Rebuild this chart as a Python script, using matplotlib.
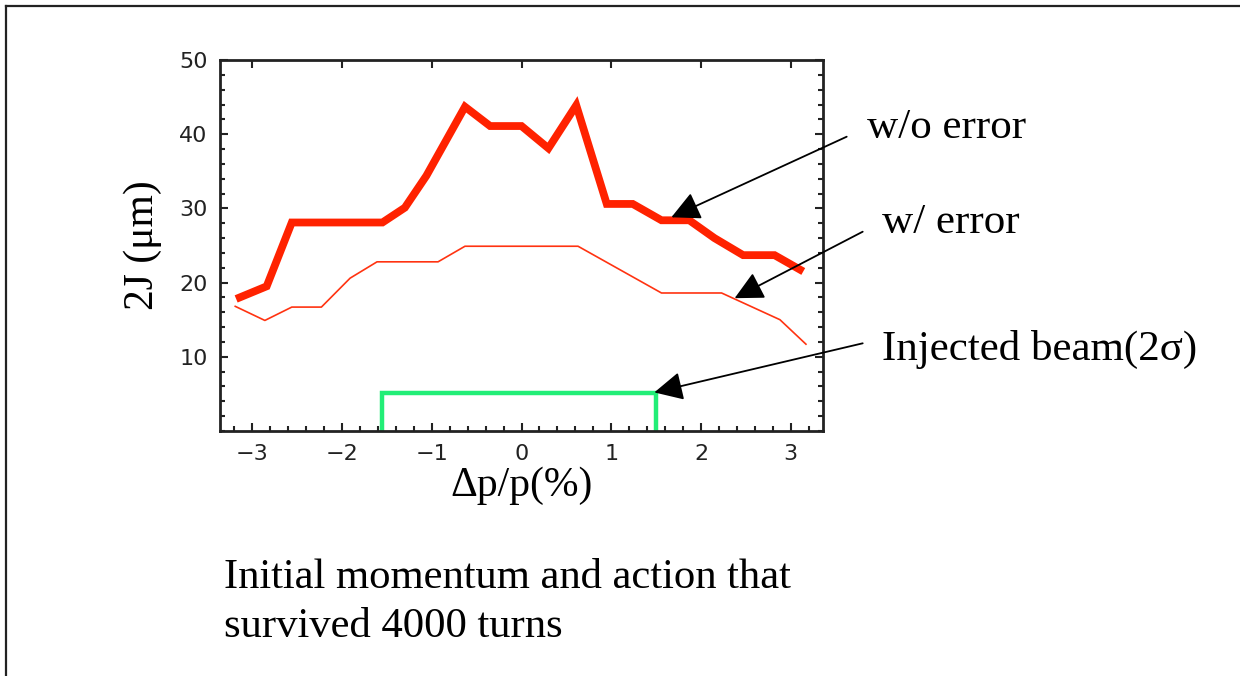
import matplotlib
matplotlib.use("Agg")
import matplotlib.pyplot as plt
from matplotlib.lines import Line2D
from matplotlib.ticker import MultipleLocator

# w/o error (thick line)
dp_noerr = [-3.18, -2.84, -2.56, -1.55, -1.30, -1.06, -0.63, -0.35, 0.0, 0.30, 0.61, 0.95, 1.24, 1.56, 1.87, 2.15, 2.47, 2.82, 3.14]
j_noerr = [17.8, 19.5, 28.1, 28.1, 30.1, 34.4, 43.7, 41.1, 41.1, 38.1, 43.9, 30.6, 30.6, 28.4, 28.4, 26.0, 23.7, 23.7, 21.5]

# w/ error (thin line)
dp_err = [-3.19, -2.86, -2.56, -2.23, -1.91, -1.61, -0.93, -0.63, 0.63, 1.56, 2.23, 2.88, 3.17]
j_err = [16.8, 14.9, 16.7, 16.7, 20.6, 22.8, 22.8, 24.9, 24.9, 18.6, 18.6, 15.0, 11.7]

# injected beam (2 sigma) box
beam_x = [-1.55, -1.55, 1.5, 1.5]
beam_y = [0.0, 5.1, 5.1, 0.0]

serif = ["Liberation Serif", "DejaVu Serif"]

fig = plt.figure(figsize=(12.4, 6.76), dpi=100)
ax = fig.add_axes([220 / 1240, 1 - 431 / 676, 603 / 1240, 371 / 676])

ax.plot(dp_noerr, j_noerr, color="#ff2200", lw=5.6, solid_joinstyle="miter", solid_capstyle="butt")
ax.plot(dp_err, j_err, color="#ff3311", lw=1.2)
ax.plot(beam_x, beam_y, color="#22ee77", lw=3.2, solid_joinstyle="miter")

ax.set_xlim(-3.36, 3.36)
ax.set_ylim(0, 50)
ax.set_xticks([-3, -2, -1, 0, 1, 2, 3])
ax.set_xticklabels(["\u22123", "\u22122", "\u22121", "0", "1", "2", "3"])
ax.set_yticks([10, 20, 30, 40, 50])
ax.xaxis.set_minor_locator(MultipleLocator(0.2))
ax.yaxis.set_minor_locator(MultipleLocator(2))
ax.tick_params(which="both", direction="in", top=True, right=True, width=1.5, color="#222222")
ax.tick_params(which="major", length=6, labelsize=16, labelcolor="#222222", pad=9)
ax.tick_params(which="minor", length=3.5)
ax.tick_params(axis="x", which="minor", top=False)
for sp in ax.spines.values():
    sp.set_linewidth(2)
    sp.set_color("#222222")

ax.set_xlabel("\u0394p/p(%)", family=serif, fontsize=30, labelpad=2)
ax.set_ylabel("2J (\u03bcm)", family=serif, fontsize=30, labelpad=12)

# annotation arrows
arrow = dict(arrowstyle="-|>,head_length=0.8,head_width=0.4", mutation_scale=22,
             color="black", lw=1.3, shrinkA=0, shrinkB=0)
ax.annotate("", xy=(1.67, 28.8), xytext=(846.7 / 1240, 1 - 136.7 / 676),
            textcoords="figure fraction", arrowprops=arrow, annotation_clip=False)
ax.annotate("", xy=(2.375, 17.9), xytext=(862.7 / 1240, 1 - 231.7 / 676),
            textcoords="figure fraction", arrowprops=arrow, annotation_clip=False)
ax.annotate("", xy=(1.48, 5.2), xytext=(862.7 / 1240, 1 - 343.3 / 676),
            textcoords="figure fraction", arrowprops=arrow, annotation_clip=False)

fig.text(867 / 1240, 1 - 138 / 676, "w/o error", family=serif, fontsize=31, va="baseline")
fig.text(882 / 1240, 1 - 233 / 676, "w/ error", family=serif, fontsize=31, va="baseline")
fig.text(882 / 1240, 1 - 360 / 676, "Injected beam(2\u03c3)", family=serif, fontsize=31, va="baseline")

fig.text(224 / 1240, 1 - 588 / 676, "Initial momentum and action that", family=serif, fontsize=30.7, va="baseline")
fig.text(224 / 1240, 1 - 637 / 676, "survived 4000 turns", family=serif, fontsize=30.7, va="baseline")

# slide frame (top and left edges)
fig.add_artist(Line2D([6 / 1240, 1], [1 - 6 / 676, 1 - 6 / 676], color="#222222", lw=1.6))
fig.add_artist(Line2D([6 / 1240, 6 / 1240], [0, 1 - 6 / 676], color="#222222", lw=1.6))

fig.savefig("out.png", dpi=100)
